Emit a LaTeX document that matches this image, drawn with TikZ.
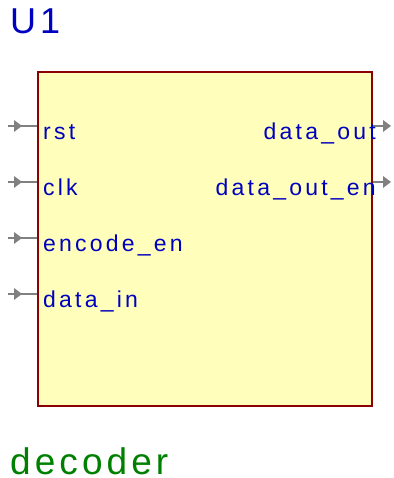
\documentclass[tikz,border=0pt]{standalone}
\usepackage{fontspec}
\setmainfont{Liberation Sans}
\newfontfamily\spaced[LetterSpace=14]{Liberation Sans}
\newfontfamily\titlefont[LetterSpace=11]{Liberation Sans}
\definecolor{pinblue}{RGB}{0,0,192}
\definecolor{namegreen}{RGB}{0,128,0}
\definecolor{bodyfill}{RGB}{255,255,187}
\definecolor{bodyline}{RGB}{139,0,0}
\definecolor{pingray}{RGB}{128,128,128}
\tikzset{
  x=1pt, y=1pt,
  pinline/.style={draw=pingray, line width=1.4pt},
  pinhead/.style={fill=pingray, draw=none},
  pinlabel/.style={text=pinblue, font=\fontsize{23}{26}\spaced, inner sep=0pt},
}
\begin{document}
\begin{tikzpicture}
\useasboundingbox (0,0) rectangle (393,478);
% component body
\node[draw=bodyline, fill=bodyfill, line width=1.6pt, minimum width=334pt, minimum height=334pt, inner sep=0pt, anchor=north west] (body) at (37,407) {};
% reference and type names
\node[anchor=base west, text=pinblue, font=\fontsize{36}{40}\titlefont, inner sep=0pt] (ref) at (10,444) {U1};
\node[anchor=base west, text=namegreen, font=\fontsize{37}{40}\titlefont, inner sep=0pt] (type) at (10,4) {decoder};
% input pins
\foreach \n/\y/\t in {rst/352/rst, clk/296/clk, en/240/encode\_en, din/184/data\_in}{
  \coordinate (\n-end) at (8,\y);
  \coordinate (\n-in) at (body.west |- 0,\y);
  \draw[pinline] (\n-end) -- (\n-in);
  \fill[pinhead] (14,\y+6) -- (22,\y) -- (14,\y-6) -- cycle;
  \node[pinlabel, anchor=base west] (\n-lbl) at (43,\y-14) {\t};
}
% output pins
\foreach \n/\y/\t in {dout/352/data\_out, doen/296/data\_out\_en}{
  \coordinate (\n-out) at (body.east |- 0,\y);
  \coordinate (\n-end) at (392,\y);
  \draw[pinline] (\n-out) -- (383,\y);
  \fill[pinhead] (383,\y+6) -- (391,\y) -- (383,\y-6) -- cycle;
  \node[pinlabel, anchor=base east] (\n-lbl) at (376,\y-14) {\t};
}
\end{tikzpicture}
\end{document}
